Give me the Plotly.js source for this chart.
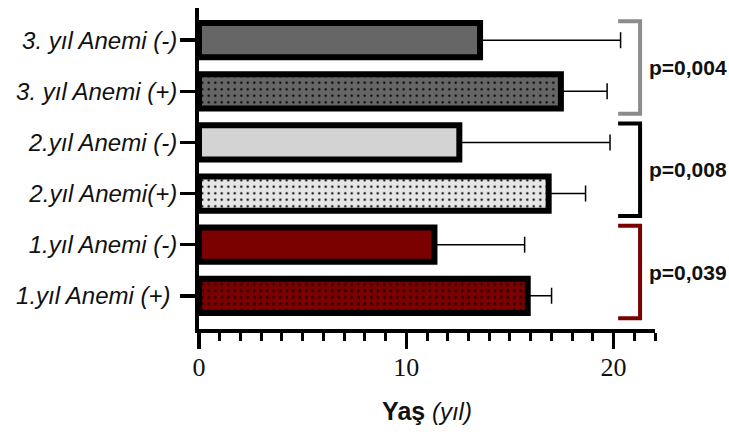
<!DOCTYPE html>
<html><head><meta charset="utf-8">
<script src="https://cdn.plot.ly/plotly-3.0.1.min.js"></script>
<style>html,body{margin:0;padding:0;background:#fff}#chart{width:729px;height:434px}</style>
</head><body><div id="chart"></div>
<script>
// bottom to top
const categories = ['1.yıl Anemi (+) ', '1.yıl Anemi (-)', '2.yıl Anemi(+)', '2.yıl Anemi (-)', '3. yıl Anemi (+)', '3. yıl Anemi (-)'];
const means = [15.86, 11.36, 16.87, 12.56, 17.46, 13.56];
const sdPlus = [1.15, 4.35, 1.78, 7.27, 2.23, 6.78];
const barColors = ['#7b0000', '#7b0000', '#e6e6e6', '#d3d3d3', '#666666', '#666666'];
const barPatterns = ['.', '', '.', '', '.', ''];
const pLabels = ['p=0,039', 'p=0,008', 'p=0,004'];
const bracketColors = ['#7b0000', '#000000', '#8c8c8c'];
const xTickVals = [0, 10, 20];

const traces = categories.map((cat, i) => ({
  type: 'bar', orientation: 'h',
  y: [cat], x: [means[i]],
  width: 0.67,
  marker: {
    color: barColors[i],
    line: {color: '#000', width: 6},
    pattern: {shape: barPatterns[i], fgcolor: '#000', bgcolor: barColors[i], fgopacity: 1, size: 6.5, solidity: 0.1, fillmode: 'replace'}
  },
  error_x: {type: 'data', symmetric: false, array: [sdPlus[i]], arrayminus: [0], color: '#000', thickness: 1.5, width: 8},
  hoverinfo: 'skip'
}));

const shapes = [], annotations = [];
pLabels.forEach((lab, g) => {
  const y0 = 2 * g - 0.44, y1 = 2 * g + 1.37;
  shapes.push({type: 'path', xref: 'x', yref: 'y',
    path: `M 20.22 ${y1} L 21.28 ${y1} L 21.28 ${y0} L 20.22 ${y0}`,
    line: {color: bracketColors[g], width: 4}, layer: 'above'});
  annotations.push({xref: 'x', yref: 'y', x: 21.62, y: (y0 + y1) / 2, text: '<b>' + lab + '</b>',
    showarrow: false, xanchor: 'left', yanchor: 'middle',
    font: {family: 'Liberation Sans, Arial, sans-serif', size: 21, color: '#111'}});
});

const layout = {
  width: 729, height: 434,
  margin: {l: 199, r: 74, t: 8, b: 105},
  paper_bgcolor: '#fff', plot_bgcolor: '#fff',
  showlegend: false,
  barmode: 'overlay',
  xaxis: {
    range: [0, 22], showgrid: false, zeroline: false,
    showline: true, linecolor: '#000', linewidth: 4,
    tickvals: xTickVals, ticks: 'outside', ticklen: 16, tickwidth: 3.5, tickcolor: '#000',
    ticklabelstandoff: -4,
    minor: {dtick: 1, tick0: 0, ticks: 'outside', ticklen: 8, tickwidth: 3, tickcolor: '#000', showgrid: false},
    tickfont: {family: 'Liberation Serif, Times New Roman, serif', size: 26, color: '#111'},
    title: {text: '<b>Yaş</b><span style="font-size:24px"> <i>(yıl)</i></span>', standoff: 22,
      font: {family: 'Liberation Sans, Arial, sans-serif', size: 25, color: '#111'}}
  },
  yaxis: {
    type: 'category', categoryorder: 'array', categoryarray: categories,
    range: [-0.65, 5.63], showgrid: false, zeroline: false,
    showline: true, linecolor: '#000', linewidth: 4,
    ticks: 'outside', ticklen: 15, tickwidth: 3.5, tickcolor: '#000',
    ticklabelstandoff: -2,
    tickfont: {family: 'Liberation Sans, Arial, sans-serif', size: 24, color: '#111', style: 'italic'}
  },
  shapes: shapes, annotations: annotations
};

Plotly.newPlot('chart', traces, layout, {staticPlot: true});
</script></body></html>
